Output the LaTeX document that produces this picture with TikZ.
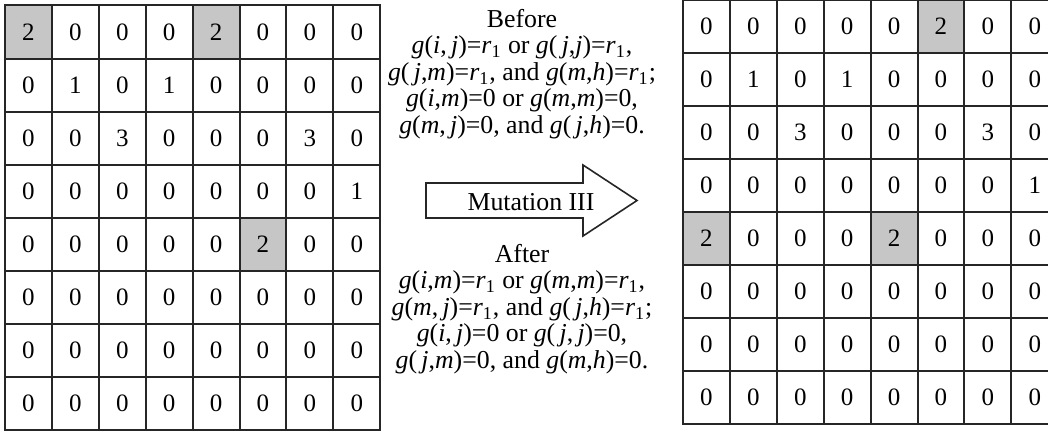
\documentclass[tikz,border=0pt]{standalone}
\usepackage{fontspec}
\setmainfont{Liberation Serif}
\newcommand{\gfun}[2]{\textit{g}(\textit{#1},\textit{#2})}
\newcommand{\rone}{\textit{r}\textsubscript{1}}
\begin{document}
\begin{tikzpicture}[x=0.5pt,y=-0.5pt,
    cellbox/.style={draw=black!85, line width=1pt, minimum width=23.45pt, minimum height=26.55pt, inner sep=0pt, font=\fontsize{12.5}{13}\selectfont},
    shadecell/.style={fill=gray!45},
    textblock/.style={align=center, inner sep=0pt, font=\fontsize{12.9}{13.25}\selectfont}]
    \useasboundingbox (0,0) rectangle (1048,430);
    \clip (0,0) rectangle (1048,430);
    % shaded cells
    \foreach \c/\r in {1/1,5/1,6/5} \fill[shadecell] ({5+(\c-1)*46.9},{5.4+(\r-1)*53.1}) rectangle ++(46.9,53.1);
    \foreach \c/\r in {6/1,1/5,5/5} \fill[shadecell] ({683+(\c-1)*46.9},{-0.5+(\r-1)*53.1}) rectangle ++(46.9,53.1);
    % left grid (before)
    \foreach \row [count=\r] in {{2,0,0,0,2,0,0,0},{0,1,0,1,0,0,0,0},{0,0,3,0,0,0,3,0},{0,0,0,0,0,0,0,1},
        {0,0,0,0,0,2,0,0},{0,0,0,0,0,0,0,0},{0,0,0,0,0,0,0,0},{0,0,0,0,0,0,0,0}}
        \foreach \v [count=\c] in \row
            \node[cellbox] (L-\r-\c) at ({5+(\c-0.5)*46.9},{5.4+(\r-0.5)*53.1}) {\v};
    % right grid (after)
    \foreach \row [count=\r] in {{0,0,0,0,0,2,0,0},{0,1,0,1,0,0,0,0},{0,0,3,0,0,0,3,0},{0,0,0,0,0,0,0,1},
        {2,0,0,0,2,0,0,0},{0,0,0,0,0,0,0,0},{0,0,0,0,0,0,0,0},{0,0,0,0,0,0,0,0}}
        \foreach \v [count=\c] in \row
            \node[cellbox] (R-\r-\c) at ({683+(\c-0.5)*46.9},{-0.5+(\r-0.5)*53.1}) {\v};
    % conditions
    \node[textblock] (before) at (522,74) {Before\\
        \gfun{i}{\,j}=\rone{} or \gfun{\,j}{j}=\rone,\\
        \gfun{\,j}{m}=\rone, and \gfun{m}{h}=\rone;\\
        \gfun{i}{m}=0 or \gfun{m}{m}=0,\\
        \gfun{m}{\,j}=0, and \gfun{\,j}{h}=0.};
    \node[textblock] (after) at (522,309) {After\\
        \gfun{i}{m}=\rone{} or \gfun{m}{m}=\rone,\\
        \gfun{m}{\,j}=\rone, and \gfun{\,j}{h}=\rone;\\
        \gfun{i}{\,j}=0 or \gfun{\,j}{\,j}=0,\\
        \gfun{\,j}{m}=0, and \gfun{m}{h}=0.};
    % mutation arrow
    \draw[black!85, line width=0.8pt] (426,183) -- (583,183) -- (583,165) -- (637,200.5) -- (583,236) -- (583,218) -- (426,218) -- cycle;
    \node[textblock] (mutation) at (531,202) {Mutation III};
\end{tikzpicture}
\end{document}
